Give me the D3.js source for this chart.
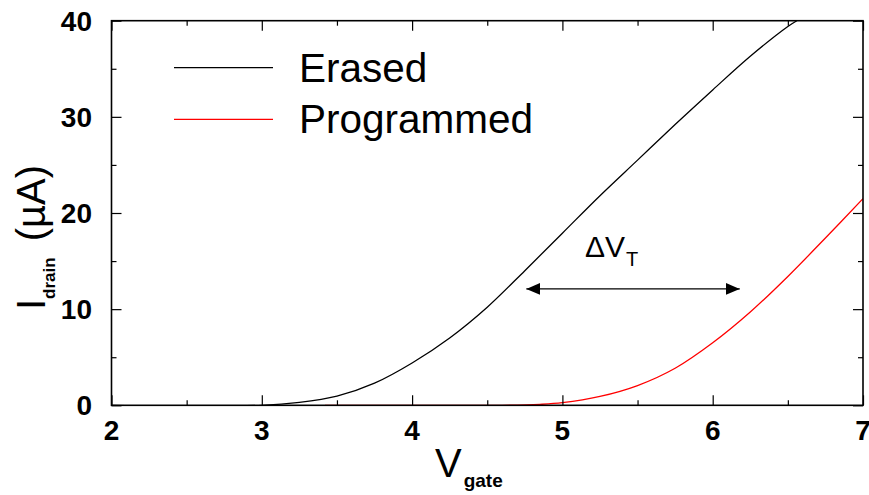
<!DOCTYPE html>
<html>
<head>
<meta charset="utf-8">
<script src="https://cdn.jsdelivr.net/npm/d3@7"></script>
<style>
  html, body { margin: 0; padding: 0; background: #fff; }
  svg { display: block; font-family: "Liberation Sans", Arial, Helvetica, sans-serif; }
</style>
</head>
<body>
<svg id="chart" width="869" height="495"></svg>
<script>
// Transfer characteristics of a flash cell, erased vs. programmed state
const seriesNames = ["Erased", "Programmed"];
const seriesColors = ["#000000", "#ff0000"];

// gate voltage (V), drain current (µA)
const erasedV = [2.0, 3.0, 3.25, 3.5, 3.75, 4.0, 4.25, 4.5, 4.75, 5.0, 5.25, 5.5, 5.75, 6.0, 6.25, 6.5, 6.56];
const erasedI = [0.0, 0.0, 0.3, 0.95, 2.3, 4.4, 7.0, 10.2, 14.0, 17.9, 21.8, 25.5, 29.2, 32.8, 36.3, 39.4, 40.0];

const programmedV = [3.42, 4.6, 4.85, 5.0, 5.25, 5.5, 5.75, 6.0, 6.25, 6.5, 6.75, 7.0];
const programmedI = [0.0, 0.0, 0.1, 0.27, 0.92, 2.05, 3.85, 6.5, 9.7, 13.4, 17.4, 21.5];

const xTicks = [2, 3, 4, 5, 6, 7];
const xMinorTicks = [2.5, 3.5, 4.5, 5.5, 6.5];
const yTicks = [0, 10, 20, 30, 40];
const yMinorTicks = [5, 15, 25, 35];

// threshold shift marker (V, µA)
const shiftFrom = 4.76, shiftTo = 6.18, shiftLevel = 12.1;

const svg = d3.select("#chart");
const plotLeft = 111.5, plotRight = 863, plotTop = 20.7, plotBottom = 405.3;

const x = d3.scaleLinear().domain([2, 7]).range([plotLeft, plotRight]);
const y = d3.scaleLinear().domain([0, 40]).range([plotBottom, plotTop]);

const defs = svg.append("defs");
defs.append("clipPath").attr("id", "plotClip")
  .append("rect").attr("x", plotLeft).attr("y", plotTop)
  .attr("width", plotRight - plotLeft).attr("height", plotBottom - plotTop);

["arrowEnd", "arrowStart"].forEach((id, i) => {
  defs.append("marker").attr("id", id)
    .attr("viewBox", "0 -6 14 12")
    .attr("refX", 14).attr("refY", 0)
    .attr("markerWidth", 14).attr("markerHeight", 12)
    .attr("markerUnits", "userSpaceOnUse")
    .attr("orient", i === 0 ? "auto" : "auto-start-reverse")
    .append("path").attr("d", "M0,-6L14,0L0,6Z").attr("fill", "#000");
});

// curves
const line = d3.line().x(d => x(d[0])).y(d => y(d[1])).curve(d3.curveCatmullRom.alpha(0.5));
const series = [
  d3.zip(erasedV, erasedI),
  d3.zip(programmedV, programmedI)
];
const curves = svg.append("g").attr("clip-path", "url(#plotClip)");
series.forEach((pts, i) => {
  curves.append("path").datum(pts)
    .attr("d", line)
    .attr("fill", "none")
    .attr("stroke", seriesColors[i])
    .attr("stroke-width", 1.3);
});

// axes: ticks point inward on all four sides
function addAxis(axis, tx, ty) {
  const g = svg.append("g").attr("transform", `translate(${tx},${ty})`).call(axis);
  g.select(".domain").remove();
  g.selectAll(".tick line").attr("stroke", "#000").attr("stroke-width", 1.2);
  return g;
}
addAxis(d3.axisTop(x).tickValues(xTicks).tickSize(10).tickFormat(""), 0, plotBottom);
addAxis(d3.axisTop(x).tickValues(xMinorTicks).tickSize(5).tickFormat(""), 0, plotBottom);
addAxis(d3.axisBottom(x).tickValues(xTicks).tickSize(10).tickFormat(""), 0, plotTop);
addAxis(d3.axisBottom(x).tickValues(xMinorTicks).tickSize(5).tickFormat(""), 0, plotTop);
addAxis(d3.axisRight(y).tickValues(yTicks).tickSize(10).tickFormat(""), plotLeft, 0);
addAxis(d3.axisRight(y).tickValues(yMinorTicks).tickSize(5).tickFormat(""), plotLeft, 0);
addAxis(d3.axisLeft(y).tickValues(yTicks).tickSize(10).tickFormat(""), plotRight, 0);
addAxis(d3.axisLeft(y).tickValues(yMinorTicks).tickSize(5).tickFormat(""), plotRight, 0);

svg.append("rect")
  .attr("x", plotLeft).attr("y", plotTop)
  .attr("width", plotRight - plotLeft).attr("height", plotBottom - plotTop)
  .attr("fill", "none").attr("stroke", "#000").attr("stroke-width", 1.6);

// tick labels
svg.append("g").selectAll("text").data(xTicks).join("text")
  .attr("x", d => x(d)).attr("y", 440)
  .attr("text-anchor", "middle")
  .attr("font-size", 28).attr("font-weight", "bold")
  .text(d => d);

svg.append("g").selectAll("text").data(yTicks).join("text")
  .attr("x", 92).attr("y", d => y(d) + 10)
  .attr("text-anchor", "end")
  .attr("font-size", 28).attr("font-weight", "bold")
  .text(d => d);

// axis titles
const xt = svg.append("text").attr("x", 435).attr("y", 477).attr("font-size", 40);
xt.append("tspan").text("V");
xt.append("tspan").attr("dx", 2).attr("dy", 9.5).attr("font-size", 19).attr("font-weight", "bold").text("gate");

const yt = svg.append("text").attr("transform", "translate(45,310) rotate(-90)").attr("font-size", 40);
yt.append("tspan").text("I");
yt.append("tspan").attr("dy", 10).attr("font-size", 17).attr("font-weight", "bold").text("drain");
yt.append("tspan").attr("dx", 16).attr("dy", -10).text("(µA)");

// legend
seriesNames.forEach((name, i) => {
  const ly = 67.7 + i * 51.6;
  svg.append("line")
    .attr("x1", 174).attr("x2", 273).attr("y1", ly).attr("y2", ly)
    .attr("stroke", seriesColors[i]).attr("stroke-width", 1.3);
  svg.append("text")
    .attr("x", 299).attr("y", ly + 14)
    .attr("font-size", 40.5)
    .text(name);
});

// threshold shift annotation
svg.append("line")
  .attr("x1", x(shiftFrom)).attr("x2", x(shiftTo))
  .attr("y1", y(shiftLevel)).attr("y2", y(shiftLevel))
  .attr("stroke", "#000").attr("stroke-width", 1.2)
  .attr("marker-start", "url(#arrowStart)")
  .attr("marker-end", "url(#arrowEnd)");

const dv = svg.append("text").attr("x", 585).attr("y", 257).attr("font-size", 30);
dv.append("tspan").text("ΔV");
dv.append("tspan").attr("dx", 1).attr("dy", 9).attr("font-size", 20).text("T");
</script>
</body>
</html>
